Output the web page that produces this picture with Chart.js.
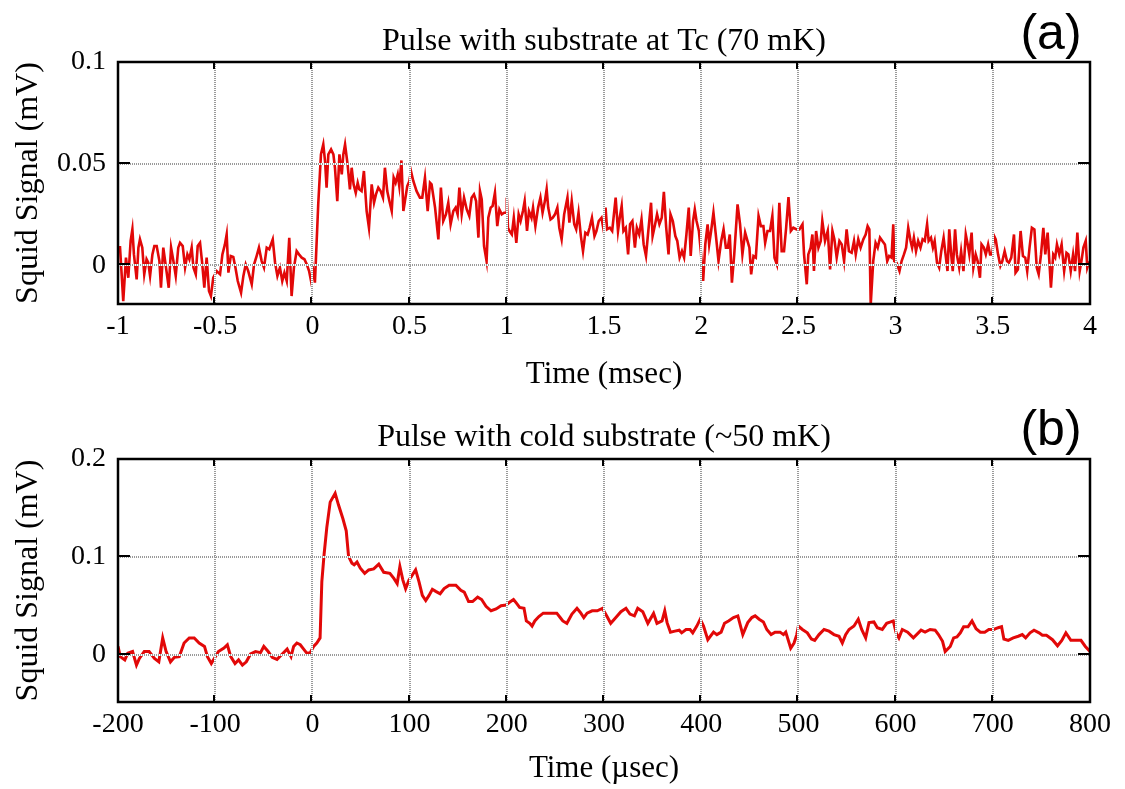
<!DOCTYPE html>
<html><head><meta charset="utf-8">
<script src="https://cdn.jsdelivr.net/npm/chart.js@4"></script>
<style>
html,body{margin:0;padding:0;background:#fff;}
#wrap{position:relative;width:1125px;height:789px;overflow:hidden;}
.c{position:absolute;left:0;}
</style></head><body>
<div id="wrap">
<canvas id="ca" class="c" style="top:0" width="1125" height="395"></canvas>
<canvas id="cb" class="c" style="top:395px" width="1125" height="394"></canvas>
</div>
<script>
// ---------- Panel (a): time in msec, signal in mV ----------
const titleA = 'Pulse with substrate at Tc (70 mK)';
const tagA = '(a)';
const xTitleA = 'Time (msec)';
const yTitle = 'Squid Signal (mV)';
const xTicksA = [-1, -0.5, 0, 0.5, 1, 1.5, 2, 2.5, 3, 3.5, 4];
const xTickLabelsA = ['-1', '-0.5', '0', '0.5', '1', '1.5', '2', '2.5', '3', '3.5', '4'];
const yTicksA = [0, 0.05, 0.1];
const yTickLabelsA = ['0', '0.05', '0.1'];
const xRangeA = [-1, 4];
const yRangeA = [-0.019, 0.1];
const timeA = [
-0.990,-0.973,-0.959,-0.947,-0.935,-0.926,-0.918,-0.904,-0.895,-0.887,-0.875,-0.865,-0.853,-0.844,-0.835,-0.823,-0.813,-0.801,-0.787,-0.779,
-0.767,-0.753,-0.739,-0.727,-0.715,-0.703,-0.690,-0.681,-0.667,-0.655,-0.643,-0.633,-0.621,-0.612,-0.600,-0.590,-0.578,-0.568,-0.556,-0.544,
-0.532,-0.522,-0.510,-0.492,-0.475,-0.463,-0.450,-0.441,-0.432,-0.420,-0.407,-0.396,-0.384,-0.367,-0.355,-0.343,-0.330,-0.312,-0.300,-0.287,
-0.275,-0.261,-0.249,-0.235,-0.222,-0.204,-0.192,-0.180,-0.167,-0.155,-0.144,-0.132,-0.119,-0.107,-0.095,-0.081,-0.069,-0.055,-0.041,-0.029,
-0.017,-0.007,0.003,0.013,0.030,0.044,0.056,0.065,0.073,0.082,0.096,0.108,0.116,0.128,0.139,0.151,0.159,0.168,0.181,0.193,
0.202,0.212,0.223,0.233,0.241,0.253,0.265,0.279,0.291,0.305,0.317,0.327,0.339,0.351,0.363,0.373,0.385,0.396,0.408,0.418,
0.428,0.439,0.447,0.458,0.468,0.476,0.488,0.499,0.507,0.519,0.536,0.553,0.565,0.579,0.593,0.605,0.613,0.631,0.648,0.661,
0.673,0.687,0.699,0.711,0.725,0.737,0.747,0.756,0.768,0.780,0.794,0.807,0.819,0.831,0.842,0.854,0.862,0.871,0.883,0.896,
0.905,0.917,0.927,0.939,0.951,0.962,0.974,0.986,0.997,1.000,1.006,1.014,1.026,1.036,1.049,1.061,1.071,1.083,1.092,1.104,
1.114,1.127,1.135,1.147,1.161,1.173,1.184,1.196,1.205,1.213,1.225,1.236,1.248,1.260,1.270,1.282,1.295,1.312,1.322,1.334,
1.347,1.357,1.369,1.381,1.392,1.404,1.416,1.426,1.438,1.451,1.461,1.473,1.487,1.496,1.508,1.516,1.530,1.542,1.560,1.572,
1.581,1.591,1.600,1.612,1.624,1.634,1.646,1.659,1.669,1.681,1.693,1.704,1.716,1.728,1.742,1.750,1.763,1.773,1.785,1.797,
1.808,1.820,1.832,1.842,1.854,1.867,1.877,1.889,1.901,1.912,1.924,1.936,1.946,1.958,1.967,1.976,1.988,1.998,2.010,2.021,
2.033,2.041,2.051,2.063,2.075,2.089,2.103,2.115,2.127,2.137,2.147,2.158,2.170,2.187,2.200,2.212,2.226,2.238,2.248,2.257,
2.269,2.281,2.295,2.307,2.320,2.329,2.341,2.354,2.366,2.377,2.389,2.402,2.414,2.426,2.437,2.449,2.461,2.474,2.491,2.505,
2.521,2.529,2.543,2.551,2.563,2.572,2.580,2.591,2.603,2.615,2.623,2.637,2.651,2.663,2.675,2.685,2.697,2.711,2.723,2.735,
2.748,2.760,2.774,2.786,2.795,2.808,2.820,2.834,2.846,2.856,2.865,2.872,2.885,2.897,2.908,2.920,2.932,2.945,2.957,2.967,
2.979,2.988,2.993,3.005,3.020,3.031,3.043,3.054,3.065,3.077,3.085,3.094,3.105,3.116,3.128,3.139,3.150,3.162,3.170,3.182,
3.192,3.201,3.213,3.224,3.235,3.247,3.255,3.267,3.276,3.286,3.294,3.306,3.315,3.327,3.337,3.349,3.361,3.371,3.379,3.391,
3.400,3.412,3.422,3.434,3.442,3.454,3.464,3.476,3.486,3.497,3.507,3.515,3.527,3.539,3.549,3.561,3.573,3.583,3.595,3.609,
3.617,3.629,3.643,3.655,3.667,3.677,3.689,3.701,3.714,3.726,3.736,3.748,3.760,3.770,3.782,3.794,3.799,3.811,3.821,3.830,
3.842,3.854,3.867,3.879,3.889,3.901,3.913,3.923,3.935,3.947,3.956,3.966,3.978,3.986,3.996
];
const signalA = [
0.0095,-0.0176,0.0038,-0.0061,0.0120,0.0177,0.0054,-0.0069,0.0087,0.0128,0.0087,-0.0044,0.0030,0.0013,-0.0052,0.0054,0.0095,0.0095,0.0021,-0.0110,
0.0087,-0.0011,-0.0110,0.0087,0.0021,-0.0052,0.0087,0.0111,0.0095,-0.0011,0.0054,0.0030,0.0087,-0.0011,-0.0044,0.0095,0.0111,0.0021,-0.0110,0.0038,
-0.0126,-0.0151,-0.0061,-0.0028,-0.0044,0.0054,0.0103,0.0152,-0.0036,0.0046,0.0041,-0.0011,-0.0077,-0.0134,-0.0052,0.0005,-0.0028,-0.0093,0.0005,0.0046,
0.0087,0.0021,-0.0011,0.0087,0.0079,0.0128,0.0013,-0.0052,-0.0011,-0.0077,-0.0036,-0.0077,0.0136,-0.0151,-0.0011,0.0070,0.0054,0.0038,0.0030,0.0005,
-0.0028,-0.0077,-0.0020,-0.0085,0.0300,0.0546,0.0595,0.0513,0.0382,0.0546,0.0570,0.0546,0.0480,0.0316,0.0546,0.0447,0.0546,0.0595,0.0497,0.0374,
0.0480,0.0398,0.0357,0.0406,0.0374,0.0365,0.0464,0.0267,0.0185,0.0398,0.0308,0.0349,0.0382,0.0365,0.0333,0.0480,0.0365,0.0316,0.0267,0.0431,
0.0406,0.0447,0.0390,0.0516,0.0267,0.0316,0.0390,0.0415,0.0464,0.0415,0.0365,0.0333,0.0333,0.0431,0.0267,0.0406,0.0398,0.0284,0.0128,0.0382,
0.0218,0.0251,0.0308,0.0202,0.0267,0.0284,0.0251,0.0382,0.0251,0.0333,0.0275,0.0243,0.0333,0.0349,0.0316,0.0136,0.0365,0.0324,0.0095,0.0021,
0.0234,0.0284,0.0292,0.0357,0.0193,0.0275,0.0251,0.0259,0.0259,0.0333,0.0185,0.0169,0.0152,0.0234,0.0111,0.0251,0.0218,0.0267,0.0316,0.0169,
0.0267,0.0234,0.0284,0.0193,0.0284,0.0333,0.0259,0.0316,0.0374,0.0284,0.0226,0.0234,0.0251,0.0284,0.0185,0.0128,0.0251,0.0333,0.0210,0.0316,
0.0202,0.0177,0.0259,0.0144,0.0070,0.0161,0.0152,0.0185,0.0234,0.0144,0.0169,0.0218,0.0234,0.0185,0.0284,0.0177,0.0185,0.0169,0.0333,0.0169,
0.0234,0.0292,0.0169,0.0185,0.0054,0.0202,0.0218,0.0087,0.0185,0.0152,0.0226,0.0103,0.0046,0.0169,0.0308,0.0144,0.0202,0.0251,0.0202,0.0234,
0.0361,0.0185,0.0054,0.0251,0.0218,0.0144,0.0120,0.0038,0.0070,0.0038,0.0152,0.0284,0.0046,0.0218,0.0275,0.0218,0.0169,0.0070,-0.0077,0.0103,
0.0202,0.0103,0.0169,0.0259,0.0152,0.0021,0.0120,0.0177,0.0087,0.0087,0.0152,-0.0085,0.0054,0.0300,0.0202,0.0054,0.0161,0.0120,0.0087,-0.0044,
0.0046,0.0038,0.0243,0.0193,0.0193,0.0111,0.0169,0.0169,0.0243,0.0038,0.0005,0.0308,0.0070,0.0070,0.0185,0.0336,0.0169,0.0185,0.0177,0.0177,
0.0202,0.0054,-0.0093,0.0054,0.0087,0.0152,-0.0028,0.0169,0.0087,0.0120,0.0218,0.0120,0.0169,-0.0020,0.0169,0.0128,0.0038,0.0120,0.0103,0.0021,
0.0177,0.0070,0.0062,0.0120,0.0054,0.0128,0.0087,0.0128,0.0152,0.0193,0.0177,-0.0192,0.0021,0.0111,0.0087,0.0136,0.0120,0.0103,0.0021,0.0046,
0.0038,0.0202,0.0021,0.0013,-0.0028,0.0021,0.0054,0.0087,0.0185,0.0120,0.0087,0.0136,0.0070,0.0120,0.0087,0.0128,0.0120,0.0202,0.0120,0.0136,
0.0087,0.0120,0.0013,-0.0011,0.0070,0.0136,0.0070,-0.0028,0.0177,0.0054,-0.0028,0.0177,0.0054,-0.0011,0.0070,-0.0028,0.0152,0.0103,0.0054,0.0161,
-0.0011,0.0054,0.0021,-0.0061,0.0103,0.0087,0.0054,0.0103,0.0054,0.0054,0.0144,0.0128,0.0054,-0.0003,0.0021,0.0070,0.0021,0.0013,0.0038,0.0152,
-0.0036,-0.0020,0.0169,0.0046,0.0038,-0.0028,0.0087,0.0185,0.0177,-0.0011,-0.0044,0.0054,0.0185,0.0054,0.0161,-0.0028,-0.0110,0.0054,0.0038,0.0103,
0.0054,0.0103,-0.0028,0.0062,0.0054,-0.0028,0.0054,-0.0028,0.0161,-0.0028,0.0021,0.0087,0.0120,-0.0011,0.0020
];

// ---------- Panel (b): time in µsec, signal in mV ----------
const titleB = 'Pulse with cold substrate (~50 mK)';
const tagB = '(b)';
const xTitleB = 'Time (\u00b5sec)';
const xTicksB = [-200, -100, 0, 100, 200, 300, 400, 500, 600, 700, 800];
const xTickLabelsB = ['-200', '-100', '0', '100', '200', '300', '400', '500', '600', '700', '800'];
const yTicksB = [0, 0.1, 0.2];
const yTickLabelsB = ['0', '0.1', '0.2'];
const xRangeB = [-200, 800];
const yRangeB = [-0.048, 0.2];
const timeB = [
-200,-197.6,-193,-190,-185,-181,-178,-173,-168,-162.5,-158,-154,-150.5,-146,-142,-137,-132,-126.7,-121.6,-116.5,
-111,-108,-104,-96.7,-91,-87.5,-84,-79.6,-76,-72,-68,-63.6,-58.5,-53.4,-50,-45.5,-41.4,-36.4,-31,-26,
-22,-19.3,-16,-12.5,-9,-5.6,-2.2,1.2,4.5,7.9,9.7,12,14.8,18.3,23.4,26.9,31.4,34.8,37.2,40.7,
43,45.9,49.3,53.8,57.9,63.1,68.3,73.4,79.7,83.8,87.2,90,93.1,95.9,99.3,101.7,106.2,109.7,113.1,116.6,
120,123.4,126.9,131.4,135.5,140.7,147.6,152.7,156.2,160.7,164.8,170,174.1,178.6,183.8,189,194.1,199.3,202.8,206.9,
209.7,213.2,217.7,220.1,223.6,226,228.8,233,237.5,244.4,251.4,254.9,257.6,261.8,267,272.2,275.7,279.2,282.6,287.8,
293,298.3,301.7,306.9,312.2,317.4,322.6,326.7,331.3,334.7,339.9,345.1,351,354.5,359.7,362.5,364.9,368.4,372.9,377.4,
379.9,384.4,388.5,391.3,395.5,399,402.4,406.8,412.7,416.1,420.5,424,428.1,433.2,437.7,442.8,447.9,452.1,455.5,459.6,
464,467.5,471.9,476,481.2,484.6,487,492.1,495.5,498.3,500,504.1,509.2,513.4,516.8,521.2,526.4,531.5,536.6,541.8,
545.2,548.6,552.1,557.2,561.6,565.1,569.2,572.6,577.7,581.2,586.3,590.8,594.9,597.6,600.5,603.4,606.9,612.4,618.3,626.2,
630.3,635.5,640.7,644.1,648.3,651,656.2,659.7,663.1,666.6,670,674.5,678.6,682.8,687.2,691.7,695.9,701,705.5,709,
711.4,715.9,721,726.2,730.3,733.8,738.3,742.4,747.6,751,755.2,761.4,766.6,771,775.2,780.3,785.5,790.7,795.2,800
];
const signalB = [
0.0087,-0.0017,-0.005,0.0017,0.0035,-0.0104,-0.0035,0.0035,0.0035,-0.0035,-0.007,0.0174,0.0035,-0.007,-0.0024,-0.0017,0.0122,0.0174,0.0174,0.0122,
0.0087,-0.0017,-0.0087,0.0035,0.007,0.0104,-0.0017,-0.0087,-0.005,-0.0104,-0.007,0.001,0.0035,0.0024,0.0087,0.0035,-0.0024,-0.0045,0.001,0.006,
-0.0017,0.0087,0.0122,0.0104,0.006,0.0017,0.0024,0.0087,0.0122,0.0174,0.0747,0.1024,0.130,0.156,0.165,0.153,0.139,0.1267,0.1007,0.0937,
0.092,0.0948,0.0885,0.0833,0.0868,0.0878,0.0927,0.0844,0.0833,0.0781,0.0729,0.0903,0.0764,0.0677,0.0764,0.0799,0.0868,0.0747,0.0608,0.0556,
0.0608,0.067,0.0649,0.0625,0.0677,0.0712,0.0712,0.066,0.0642,0.0545,0.0545,0.059,0.0566,0.0497,0.0451,0.0469,0.0503,0.051,0.0538,0.0566,
0.0531,0.0486,0.0476,0.0347,0.0323,0.0295,0.0347,0.0392,0.0427,0.0427,0.0427,0.0382,0.0347,0.0323,0.0417,0.0476,0.0434,0.0382,0.0427,0.0451,
0.0451,0.0476,0.0417,0.0323,0.0382,0.0441,0.0476,0.0417,0.0399,0.0476,0.0441,0.0323,0.0424,0.0323,0.0347,0.0451,0.033,0.0233,0.0243,0.0253,
0.0226,0.026,0.026,0.0226,0.0295,0.0365,0.0295,0.0156,0.0233,0.0208,0.0233,0.0323,0.0347,0.0382,0.0399,0.0208,0.033,0.0382,0.0399,0.0365,
0.0337,0.026,0.0208,0.0233,0.0233,0.0208,0.0233,0.0069,0.0122,0.0208,0.0295,0.026,0.0226,0.0163,0.0149,0.0208,0.026,0.0243,0.0208,0.0191,
0.0122,0.0208,0.026,0.0295,0.0365,0.026,0.0174,0.033,0.0337,0.0278,0.026,0.0323,0.0337,0.0347,0.0226,0.0174,0.026,0.0233,0.0174,0.0253,
0.0233,0.026,0.0253,0.0208,0.0139,0.0035,0.0087,0.0174,0.0184,0.0226,0.0288,0.0288,0.0347,0.0267,0.0233,0.0233,0.026,0.026,0.0278,0.0288,
0.0163,0.0149,0.0174,0.0191,0.0208,0.0174,0.0226,0.0253,0.0226,0.0201,0.0201,0.0156,0.0094,0.0149,0.0226,0.0149,0.0149,0.0149,0.0087,0.0035
];

const lineColor = 'rgb(226,8,8)';
const serif = '"Liberation Serif", "Times New Roman", serif';
const sans = '"Liberation Sans", Arial, sans-serif';

function framePlugin(title, tag, titleY, tagY) {
  return {
    id: 'frame',
    afterDatasetsDraw(chart) {
      const ctx = chart.ctx, a = chart.chartArea, x = chart.scales.x, y = chart.scales.y;
      const vx = x.ticks.map(t => x.getPixelForValue(t.value)).filter(p => p > a.left + 2 && p < a.right - 2);
      const hy = y.ticks.map(t => y.getPixelForValue(t.value)).filter(p => p > a.top + 2 && p < a.bottom - 2);
      ctx.save();
      const lines = () => {
        ctx.beginPath();
        vx.forEach(p => { ctx.moveTo(Math.round(p), a.top); ctx.lineTo(Math.round(p), a.bottom); });
        hy.forEach(p => { ctx.moveTo(a.left, Math.round(p)); ctx.lineTo(a.right, Math.round(p)); });
        ctx.stroke();
      };
      ctx.lineWidth = 2;
      ctx.strokeStyle = '#ffffff'; ctx.setLineDash([]); lines();
      ctx.strokeStyle = '#9a9a9a'; ctx.setLineDash([1, 1]); lines();
      ctx.setLineDash([]);
      ctx.strokeStyle = '#000'; ctx.lineWidth = 2;
      ctx.beginPath();
      vx.forEach(p => {
        ctx.moveTo(Math.round(p) - 1, a.top); ctx.lineTo(Math.round(p) - 1, a.top + 7);
        ctx.moveTo(Math.round(p) - 1, a.bottom); ctx.lineTo(Math.round(p) - 1, a.bottom - 7);
      });
      hy.forEach(p => {
        ctx.moveTo(a.left, Math.round(p) - 1); ctx.lineTo(a.left + 12, Math.round(p) - 1);
        ctx.moveTo(a.right, Math.round(p) - 1); ctx.lineTo(a.right - 12, Math.round(p) - 1);
      });
      ctx.stroke();
      ctx.lineWidth = 2.5;
      ctx.strokeRect(a.left, a.top, a.right - a.left, a.bottom - a.top);
      ctx.fillStyle = '#000';
      ctx.textAlign = 'center'; ctx.textBaseline = 'middle';
      ctx.font = '32px ' + serif;
      ctx.fillText(title, (a.left + a.right) / 2, titleY);
      ctx.font = '50px ' + sans;
      ctx.fillText(tag, 1051, tagY);
      ctx.restore();
    }
  };
}

function makeChart(id, times, values, lw, xr, yr, xt, xtl, yt, ytl, xTitle, title, tag, padTop, xH, titleY, tagY) {
  return new Chart(document.getElementById(id), {
    type: 'line',
    data: { datasets: [{
      data: times.map((t, i) => ({ x: t, y: values[i] })),
      borderColor: lineColor, borderWidth: lw, pointRadius: 0, tension: 0, fill: false
    }] },
    options: {
      responsive: false, animation: false, devicePixelRatio: 1,
      layout: { padding: { left: 0, right: 35, top: padTop, bottom: 0 } },
      plugins: { legend: { display: false }, tooltip: { enabled: false }, title: { display: false } },
      scales: {
        x: {
          type: 'linear', min: xr[0], max: xr[1],
          grid: { display: false, drawTicks: false }, border: { display: false },
          afterBuildTicks: s => { s.ticks = xt.map(v => ({ value: v })); },
          afterFit: s => { s.height = xH; },
          ticks: { padding: 6, color: '#000', font: { family: serif, size: 28 }, maxRotation: 0, autoSkip: false,
                   callback: (v) => xtl[xt.indexOf(v)] },
          title: { display: true, text: xTitle, color: '#000', font: { family: serif, size: 31 }, padding: { top: 0, bottom: 2 } }
        },
        y: {
          type: 'linear', min: yr[0], max: yr[1],
          grid: { display: false, drawTicks: false }, border: { display: false },
          afterBuildTicks: s => { s.ticks = yt.map(v => ({ value: v })); },
          afterFit: s => { s.width = 118; },
          ticks: { padding: 12, color: '#000', font: { family: serif, size: 28 }, autoSkip: false,
                   callback: (v) => ytl[yt.indexOf(v)] },
          title: { display: true, text: yTitle, color: '#000', font: { family: serif, size: 32 }, padding: { top: 9, bottom: 0 } }
        }
      }
    },
    plugins: [framePlugin(title, tag, titleY, tagY)]
  });
}

makeChart('ca', timeA, signalA, 2.6, xRangeA, yRangeA, xTicksA, xTickLabelsA, yTicksA, yTickLabelsA, xTitleA, titleA, tagA, 62, 91, 42, 35);
makeChart('cb', timeB, signalB, 3, xRangeB, yRangeB, xTicksB, xTickLabelsB, yTicksB, yTickLabelsB, xTitleB, titleB, tagB, 64, 87, 43, 36);
</script>
</body></html>
